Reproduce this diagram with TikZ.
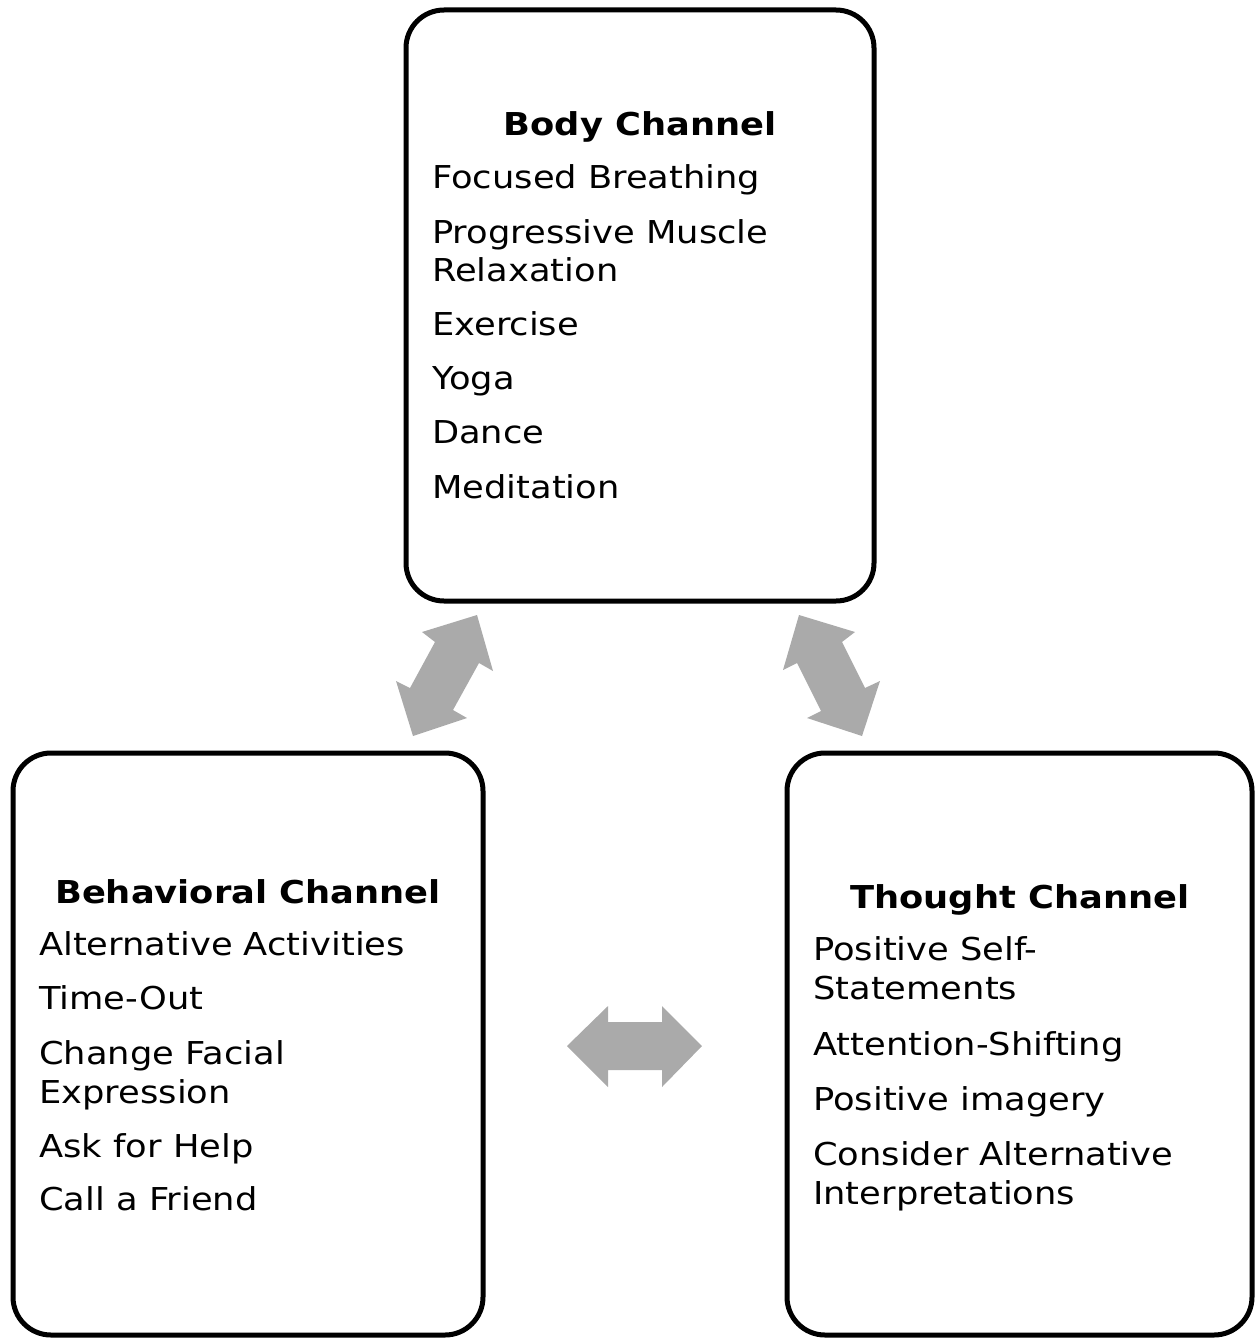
\documentclass[tikz,border=0pt]{standalone}
\usepackage{fontspec}
\setmainfont[FakeStretch=1.12]{DejaVu Sans}
\definecolor{arrowgray}{HTML}{AAAAAA}
\begin{document}
\begin{tikzpicture}[x=1pt,y=-1pt,
  box/.style={draw=black, line width=5pt, rounded corners=38pt, inner sep=0pt},
  item/.style={anchor=base west, inner sep=0pt, font=\fontsize{31.5}{38}\selectfont},
  title/.style={anchor=base, inner sep=0pt, font=\fontsize{31.5}{38}\selectfont\bfseries},
  blockarrow/.style={fill=arrowgray, draw=none}]
\useasboundingbox (0,0) rectangle (1254,1338);
% boxes
\node[box, minimum width=468pt, minimum height=591pt] (body) at (640,305.5) {};
\node[box, minimum width=470pt, minimum height=582pt] (behav) at (248,1044) {};
\node[box, minimum width=465pt, minimum height=582pt] (thought) at (1019.5,1044) {};
% body channel text
\node[title] (bt) at (640,135) {Body Channel};
\node[item] (b1) at (432,188) {Focused Breathing};
\node[item] (b2) at (432,243) {Progressive Muscle};
\node[item] (b3) at (432,281) {Relaxation};
\node[item] (b4) at (432,335) {Exercise};
\node[item] (b5) at (432,389) {Yoga};
\node[item] (b6) at (432,443) {Dance};
\node[item] (b7) at (432,498) {Meditation};
% behavioral channel text
\node[title] (lt) at (248,903) {Behavioral Channel};
\node[item] (l1) at (39,955) {Alternative Activities};
\node[item] (l2) at (39,1009) {Time-Out};
\node[item] (l3) at (39,1064) {Change Facial};
\node[item] (l4) at (39,1103) {Expression};
\node[item] (l5) at (39,1157) {Ask for Help};
\node[item] (l6) at (39,1210) {Call a Friend};
% thought channel text
\node[title] (rt) at (1020,908) {Thought Channel};
\node[item] (r1) at (813,960) {Positive Self-};
\node[item] (r2) at (813,999) {Statements};
\node[item] (r3) at (813,1055) {Attention-Shifting};
\node[item] (r4) at (813,1110) {Positive imagery};
\node[item] (r5) at (813,1165) {Consider Alternative};
\node[item] (r6) at (813,1204) {Interpretations};
% block arrows
\fill[blockarrow] (477,615) -- (493,671) -- (479,663) -- (453,710) -- (467,718) -- (413,736) -- (396,681) -- (410,688) -- (435,642) -- (422,632) -- cycle;
\fill[blockarrow] (799,615) -- (855,632) -- (842,642) -- (865,688) -- (880,681) -- (862,736) -- (807,718) -- (821,711) -- (797,663) -- (783,670) -- cycle;
\fill[blockarrow] (567,1046) -- (608,1006) -- (608,1022) -- (662,1022) -- (662,1006) -- (702,1046) -- (662,1087) -- (662,1070) -- (608,1070) -- (608,1087) -- cycle;
\end{tikzpicture}
\end{document}
